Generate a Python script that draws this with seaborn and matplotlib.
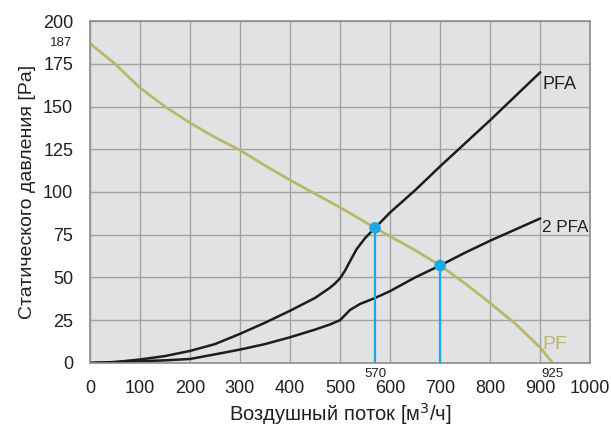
import numpy as np
import pandas as pd
import seaborn as sns
import matplotlib.pyplot as plt

# Fan curve (PF) and system curves (PFA, 2 PFA)
pf_x = [0, 50, 100, 150, 200, 250, 300, 350, 400, 450, 500, 570, 600, 650, 700, 750, 800, 850, 900, 925]
pf_y = [187, 175, 161, 150, 140.5, 132, 124.5, 115.5, 107, 99, 91, 79, 74, 66, 57, 46.5, 35, 23, 9, 0]

pfa_x = [0, 50, 100, 150, 200, 250, 300, 350, 400, 450, 480, 490, 500, 510, 520, 533, 550, 570, 600, 650,
         700, 750, 800, 850, 900]
pfa_y = [0, 0.5, 2, 4, 7, 11, 17, 23.5, 30.5, 38, 44, 46.5, 49.5, 54, 59.5, 66.5, 73, 79, 88, 101,
         115, 128.5, 142, 156, 170]

pfa2_x = [0, 100, 150, 200, 250, 300, 350, 400, 450, 480, 500, 510, 520, 540, 570, 600, 650, 700, 750,
          800, 850, 900]
pfa2_y = [0, 1, 1.5, 2.3, 5, 7.8, 11, 15, 19.5, 22.5, 25, 28, 31, 34.5, 38, 42, 50, 57, 64.5,
          71.5, 78, 84.5]

# operating points
op_x = [570, 700]
op_y = [79, 57]

x_ticks = list(range(0, 1001, 100))
y_ticks = list(range(0, 201, 25))

sns.set_style("whitegrid", {
    "axes.facecolor": "#e1e2e4",
    "grid.color": "#a2a2a2",
    "axes.edgecolor": "#8e8e8e",
})
plt.rcParams['font.family'] = ['Liberation Sans', 'DejaVu Sans']
text_col = "#231f20"

fig = plt.figure(figsize=(6.11, 4.30), dpi=100)
ax = fig.add_axes([0.147, 0.156, 0.819, 0.795])

pf_col = "#bbb76a"
blue = "#1ea7e1"

sns.lineplot(x=pf_x, y=pf_y, ax=ax, color=pf_col, linewidth=2.0, sort=False)
sns.lineplot(x=pfa_x, y=pfa_y, ax=ax, color="#1e1c1c", linewidth=1.8, sort=False)
sns.lineplot(x=pfa2_x, y=pfa2_y, ax=ax, color="#1e1c1c", linewidth=1.8, sort=False)

for xv, yv in zip(op_x, op_y):
    ax.plot([xv, xv], [0, yv], color=blue, linewidth=1.6, zorder=4)
sns.scatterplot(x=op_x, y=op_y, ax=ax, color=blue, s=70, edgecolor="none", zorder=5)

ax.set_xlim(0, 1000)
ax.set_ylim(0, 200)
ax.set_xticks(x_ticks)
ax.set_yticks(y_ticks)
ax.tick_params(axis='both', length=0, labelsize=13, colors=text_col)
ax.tick_params(axis='x', pad=12)
ax.tick_params(axis='y', pad=12)
for s in ax.spines.values():
    s.set_linewidth(1.2)
ax.grid(True, linewidth=1.0)

# extra small labels
ax.annotate("187", xy=(0, 187), xytext=(-13, 0), textcoords='offset points', fontsize=9.5,
            ha='right', va='center', color=text_col, annotation_clip=False)
ax.text(570, -6.5, "570", fontsize=9.5, ha='center', va='center', color=text_col, clip_on=False)
ax.text(925, -6.5, "925", fontsize=9.5, ha='center', va='center', color=text_col, clip_on=False)

# curve labels
ax.text(905, 163, "PFA", fontsize=13, color=text_col, va='center')
ax.text(903, 79, "2 PFA", fontsize=12.3, color=text_col, va='center')
ax.text(905, 11, "PF", fontsize=14, color=pf_col, va='center')

ax.set_xlabel("Воздушный поток [м$^3$/ч]", fontsize=14.5, color=text_col, labelpad=3)
ax.set_ylabel("Статического давления [Pa]", fontsize=14, color=text_col, labelpad=5)

fig.savefig("out.png", dpi=100)
